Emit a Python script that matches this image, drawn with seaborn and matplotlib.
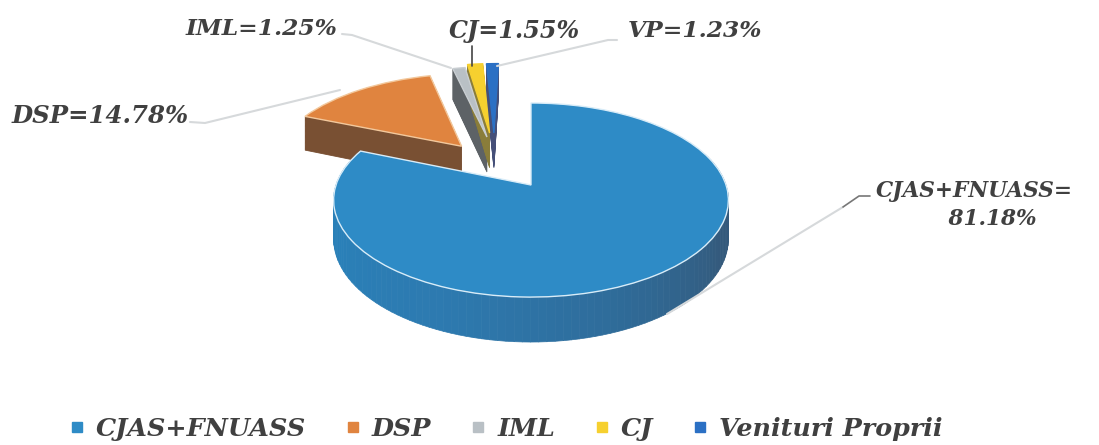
import numpy as np
import matplotlib
matplotlib.use("Agg")
import matplotlib.pyplot as plt
from matplotlib.transforms import Transform
from matplotlib.collections import PolyCollection
from matplotlib.lines import Line2D
import seaborn as sns

# ---- data ----
categories = ["CJAS+FNUASS", "DSP", "IML", "CJ", "Venituri Proprii"]
shares = [81.18, 14.78, 1.25, 1.55, 1.23]
slice_labels = ["CJAS+FNUASS=\n     81.18%", "DSP=14.78%", "IML=1.25%", "CJ=1.55%", "VP=1.23%"]

# ---- style ----
top_colors = ["#2e8bc6", "#e0843f", "#b9c0c5", "#f6d02f", "#2b70c4"]
wall_colors = ["#2f6a9a", "#795033", "#5d6266", "#8a7d3a", "#454f78"]
edge_colors = ["#d8ecf8", "#f3c89c", "#c9ced2", "#f6d02f", "#2b70c4"]
centers = [(0, 0), (-0.38, 0.437), (-0.245, 0.55), (-0.232, 0.6), (-0.208, 0.6)]
TXT = "#404040"
LEAD = "#d6d9db"
FONT = "DejaVu Serif"

sns.set_theme(style="white")
plt.rcParams["font.family"] = [FONT]

CX, CY, AX_, AY_, DZ, K = 531.0, 185.0, 195.0, 94.7, 38.0, 0.155


def project(x, y, z=0.0):
    w = 1 + K * y
    return CX + AX_ * x / w, CY - AY_ * y / w + DZ * z / w


class Persp(Transform):
    input_dims = output_dims = 2
    is_separable = False
    has_inverse = False

    def __init__(self, z=0.0):
        super().__init__()
        self.z = z

    def transform_non_affine(self, values):
        values = np.asarray(values, dtype=float)
        px, py = project(values[:, 0], values[:, 1], self.z)
        return np.column_stack([px, py])


fig = plt.figure(figsize=(10.99, 4.45), dpi=100, facecolor="white")
ax = fig.add_axes([0, 0, 1, 1])


def z_for(i, z):
    if z == 0:
        return {1: 4.0, 2: 4.3, 3: 4.2, 4: 4.1, 0: 7}[i]
    return {1: 2, 2: 2.3, 3: 2.5, 4: 2.7, 0: 2}[i] + 0.1 * (1 - z)


def draw_pie(z, colors, edges=None, lw=0, only=None):
    wedges, _ = ax.pie(shares, colors=colors, startangle=90, counterclock=False,
                       radius=1, labels=None, normalize=True,
                       wedgeprops=dict(linewidth=lw))
    for i, w in enumerate(wedges):
        w.set_center(centers[i])
        w.set_transform(Persp(z) + ax.transData)
        if edges is not None:
            w.set_edgecolor(edges[i])
        else:
            w.set_edgecolor(colors[i])
            w.set_linewidth(0.6)
        w.set_zorder(z_for(i, z))
        if only is not None and i not in only:
            w.set_visible(False)
    return wedges


# extruded side walls of the exploded slices
for z in np.linspace(1, 0.02, 40):
    draw_pie(z, wall_colors, only=[1, 2, 3, 4])

# curved outer wall of the large slice, shaded along the rim
end = 360 * shares[0] / sum(shares)
ths = np.radians(np.linspace(70, end, 110))
quads = []
for a, b in zip(ths[:-1], ths[1:]):
    p0 = project(np.sin(a), np.cos(a), 0)
    p1 = project(np.sin(b), np.cos(b), 0)
    p2 = project(np.sin(b), np.cos(b), 1)
    p3 = project(np.sin(a), np.cos(a), 1)
    quads.append([p0, p1, p2, p3])
rim = sns.blend_palette(["#33567a", "#345a7c", "#2f6c9a", "#2d7ab0", "#2a80b8", "#2a80b8"], len(quads))
ax.add_collection(PolyCollection(quads, facecolors=rim, edgecolors=rim, linewidths=0.5, zorder=6.5))

# top faces
draw_pie(0, top_colors, edges=edge_colors, lw=1.0)

ax.set_aspect("auto")
ax.set_xlim(0, 1099)
ax.set_ylim(445, 0)
ax.axis("off")

# leader lines
for xs, ys, c, lw in [
    ([190, 205, 340], [122, 123, 90], LEAD, 1.5),
    ([342, 352, 451], [34, 35, 68], LEAD, 1.5),
    ([472, 472], [46, 66], "#444444", 1.2),
    ([617, 608, 497], [40, 40, 66], LEAD, 1.5),
    ([843, 667], [207, 314], LEAD, 1.5),
    ([843, 859, 870], [207, 196, 196], "#777777", 1.2),
]:
    ax.plot(xs, ys, color=c, lw=lw, zorder=8, solid_capstyle="round")

# slice labels
kw = dict(color=TXT, fontfamily=FONT, fontweight="bold", fontstyle="italic", zorder=9)
ax.text(974, 205, slice_labels[0], ha="center", va="center", fontsize=15.6, linespacing=1.3, **kw)
ax.text(12, 116, slice_labels[1], ha="left", va="center", fontsize=17.6, **kw)
ax.text(337, 29, slice_labels[2], ha="right", va="center", fontsize=16.8, **kw)
ax.text(514, 31, slice_labels[3], ha="center", va="center", fontsize=17.2, **kw)
ax.text(695, 31, slice_labels[4], ha="center", va="center", fontsize=16.8, **kw)

# legend
handles = [Line2D([], [], ls="none", marker="s", ms=6.5, mfc=c, mec=c) for c in top_colors]
leg = ax.legend(handles, categories, ncol=5, loc="center left",
                bbox_to_anchor=(0.063, 0.036), frameon=False, handlelength=0.6,
                handletextpad=0.45, columnspacing=1.54, borderpad=0, borderaxespad=0,
                prop=dict(family=FONT, weight="bold", style="italic", size=18.3))
for t in leg.get_texts():
    t.set_color(TXT)

fig.savefig("out.png", dpi=100, facecolor="white")
